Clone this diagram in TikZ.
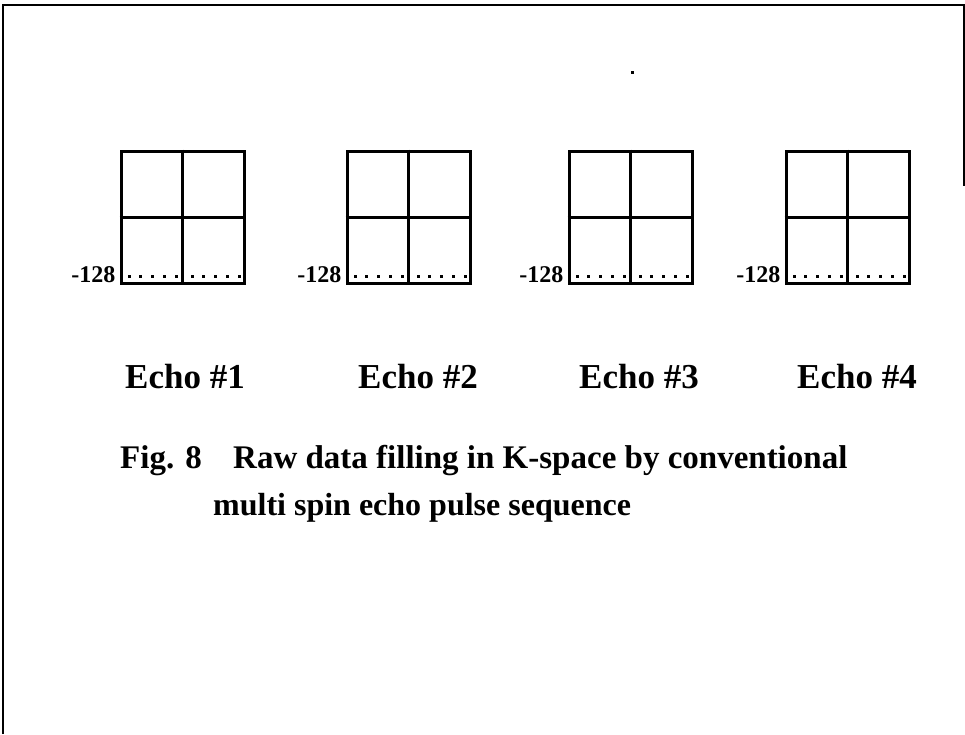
\documentclass[tikz,border=0pt]{standalone}
\usepackage{fontspec}
\setmainfont{Liberation Serif}
\begin{document}
\begin{tikzpicture}[x=1pt,y=-1pt,
  frameline/.style={line width=2pt},
  kbox/.style={draw, line width=3pt, minimum width=123pt, minimum height=132pt, inner sep=0pt},
  kline/.style={line width=3pt},
  numlbl/.style={font=\bfseries\fontsize{24}{24}\selectfont, anchor=base east, inner sep=0pt},
  echolbl/.style={font=\bfseries\fontsize{35}{35}\selectfont, anchor=base, inner sep=0pt},
  caplbl/.style={font=\bfseries\fontsize{33}{33}\selectfont, anchor=base west, inner sep=0pt}]
\useasboundingbox (0,0) rectangle (965,734);
% outer frame
\draw[frameline] (2.5,734) -- (2.5,5) -- (964,5) -- (964,186);
% stray speck
\fill (631,71) rectangle (633.5,73.5);
% k-space boxes
\foreach \n/\cx/\ex in {1/182.5/185, 2/408.5/418, 3/630.5/639, 4/847.5/857}{
  \node[kbox] (k\n) at (\cx,217) {};
  \draw[kline] (k\n.north) -- (k\n.south);
  \draw[kline] (k\n.west) -- (k\n.east);
  \foreach \i in {0,...,4}{
    \fill ([xshift={8pt+11.8pt*\i}, yshift=6.5pt]k\n.south west) rectangle ++(3,-3);
    \fill ([xshift={8pt+11.8pt*\i}, yshift=6.5pt]k\n.south) rectangle ++(3,-3);
  }
  \node[numlbl] (n\n) at ([xshift=-4pt, yshift=2pt]k\n.south west) {-128};
  \node[echolbl] (e\n) at (\ex,388) {Echo \#\n};
}
% caption
\node[caplbl] (figno) at (120,468) {Fig. 8};
\node[caplbl] (cap1) at (233,468) {Raw data filling in K-space by conventional};
\node[caplbl, font=\bfseries\fontsize{32}{32}\selectfont] (cap2) at (213,515) {multi spin echo pulse sequence};
\end{tikzpicture}
\end{document}
